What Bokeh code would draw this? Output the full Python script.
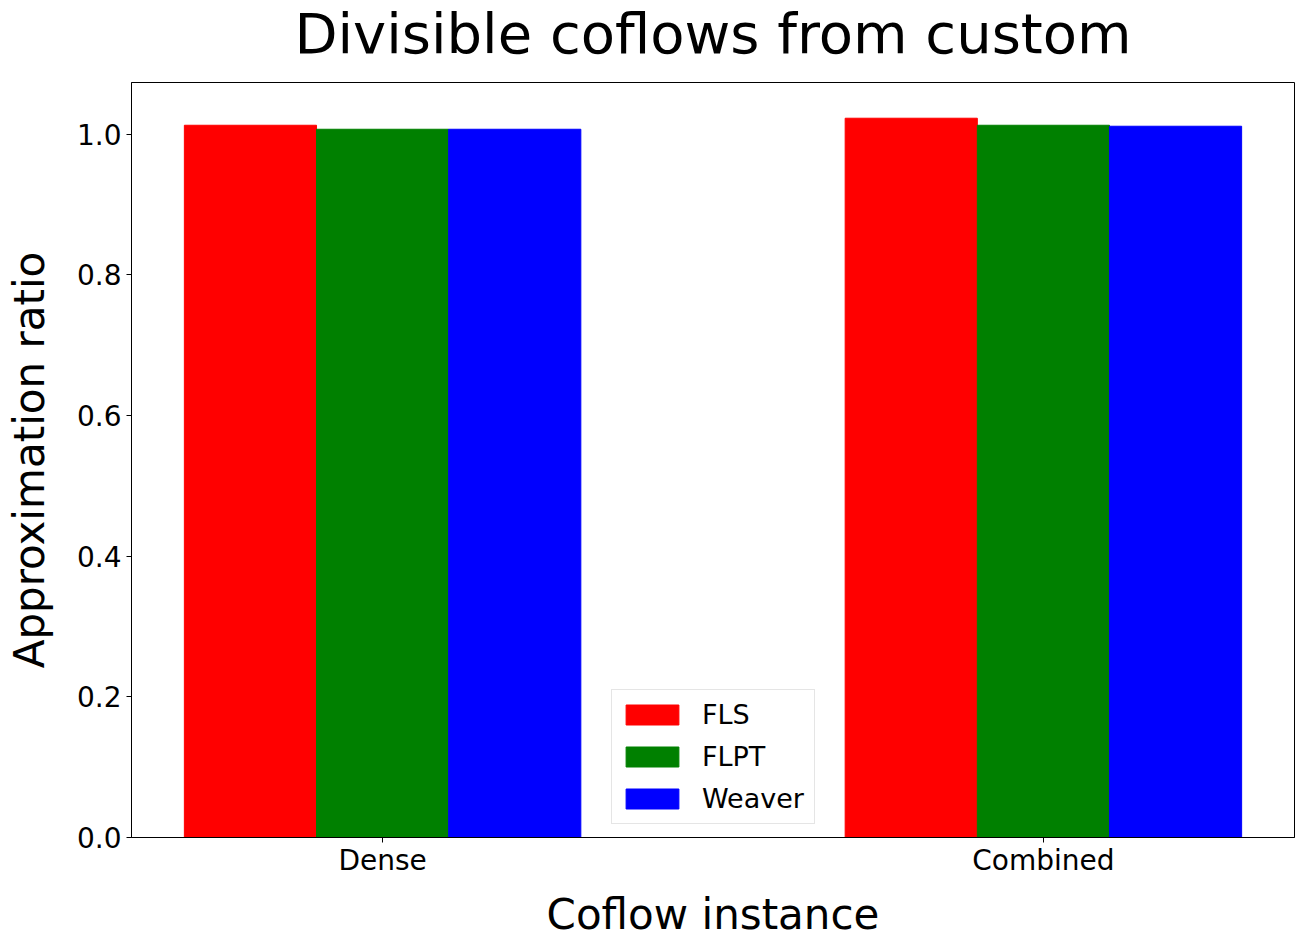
from bokeh.plotting import figure
from bokeh.models import Range1d, FixedTicker
from bokeh.layouts import column
from bokeh.embed import file_html
from bokeh.resources import INLINE

categories = ["Dense", "Combined"]
series_names = ["FLS", "FLPT", "Weaver"]
fls = [1.0128, 1.0228]
flpt = [1.0071, 1.0128]
weaver = [1.0071, 1.0114]
colors = ["#ff0000", "#008000", "#0000ff"]
title_text = "Divisible coflows from custom"

FONT = "DejaVu Sans"
bar_w = 0.2
offsets = [-bar_w, 0.0, bar_w]

# Title strip (separate figure so the title can sit close to the top edge)
t = figure(width=1304, height=81, output_backend="svg", toolbar_location=None,
           min_border_left=131, min_border_right=10, min_border_top=0,
           min_border_bottom=0, title=title_text)
t.axis.visible = False
t.grid.visible = False
t.outline_line_color = None
t.border_fill_color = "white"
t.background_fill_color = "white"
t.title.text_font = FONT
t.title.text_font_size = "56px"
t.title.text_font_style = "normal"
t.title.text_color = "black"
t.title.align = "center"
t.title.vertical_align = "top"
t.title.standoff = 0

p = figure(width=1304, height=865, output_backend="svg", toolbar_location=None,
           x_range=Range1d(-0.38, 1.38), y_range=Range1d(0, 1.0736),
           min_border_left=131, min_border_right=10, min_border_top=1,
           min_border_bottom=109)

idx = list(range(len(categories)))
for vals, name, col, off in zip([fls, flpt, weaver], series_names, colors, offsets):
    p.vbar(x=[i + off for i in idx], top=vals, width=bar_w, bottom=0,
           fill_color=col, line_color=col, line_width=1, legend_label=name)

p.xgrid.visible = False
p.ygrid.visible = False
p.outline_line_color = "black"
p.outline_line_alpha = 1
p.outline_line_width = 1
p.background_fill_color = "white"
p.border_fill_color = "white"

p.xaxis.ticker = FixedTicker(ticks=idx)
p.xaxis.major_label_overrides = {i: c for i, c in zip(idx, categories)}
p.yaxis.ticker = FixedTicker(ticks=[0.0, 0.2, 0.4, 0.6, 0.8, 1.0])
p.yaxis.major_label_overrides = {0.0: "0.0", 0.2: "0.2", 0.4: "0.4", 0.6: "0.6", 0.8: "0.8", 1.0: "1.0"}

for ax in (p.xaxis[0], p.yaxis[0]):
    ax.axis_line_color = "black"
    ax.major_tick_line_color = "black"
    ax.major_tick_out = 5
    ax.major_tick_in = 0
    ax.minor_tick_line_color = None
    ax.major_label_text_font = FONT
    ax.major_label_text_font_size = "28px"
    ax.major_label_text_color = "black"
    ax.axis_label_text_font = FONT
    ax.axis_label_text_font_size = "42px"
    ax.axis_label_text_font_style = "normal"
    ax.axis_label_text_color = "black"

p.xaxis.major_label_standoff = 1
p.yaxis.major_label_standoff = 5
p.xaxis.axis_label = "Coflow instance"
p.yaxis.axis_label = "Approximation ratio"
p.xaxis.axis_label_standoff = 10
p.yaxis.axis_label_standoff = 20

lg = p.legend[0]
lg.location = (480, 13)
lg.label_text_font = FONT
lg.label_text_font_size = "27px"
lg.label_text_color = "black"
lg.glyph_width = 66
lg.glyph_height = 25
lg.label_height = 35
lg.label_width = 105
lg.label_standoff = 17
lg.padding = 7
lg.spacing = 7
lg.margin = 0
lg.border_line_color = "#cccccc"
lg.border_line_width = 1
lg.background_fill_color = "white"
lg.background_fill_alpha = 1

layout = column(t, p, spacing=0)
open("out.html", "w").write(file_html(layout, INLINE))
